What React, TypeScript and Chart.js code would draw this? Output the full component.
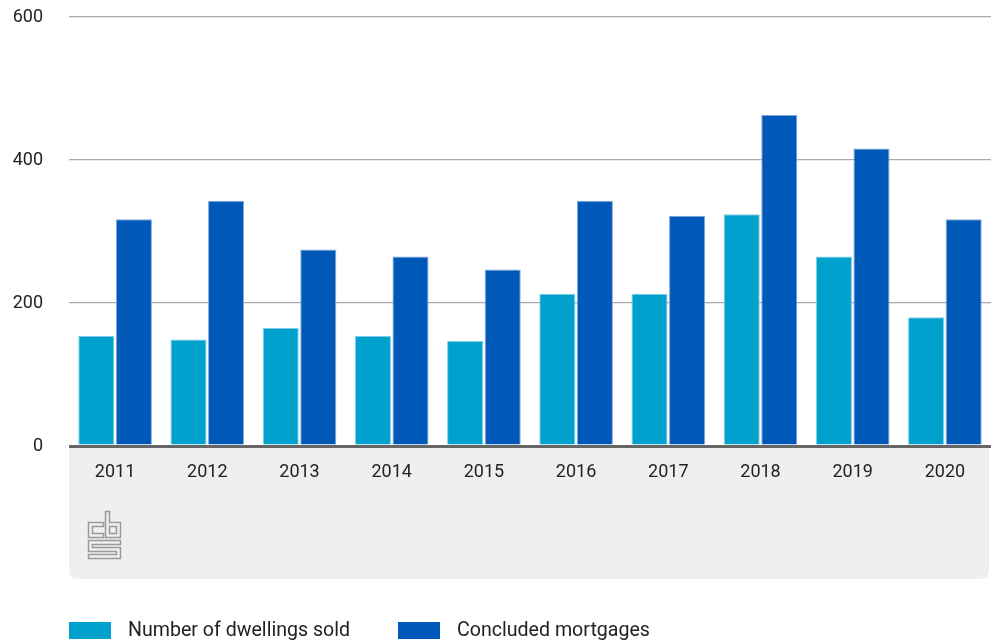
import { useEffect, useRef } from "react";
import { Chart, registerables } from "chart.js";

Chart.register(...registerables);

const years = ["2011", "2012", "2013", "2014", "2015", "2016", "2017", "2018", "2019", "2020"];
const dwellingsSold = [154, 149, 165, 154, 147, 213, 213, 324, 265, 180];
const concludedMortgages = [317, 343, 275, 265, 247, 343, 322, 463, 416, 317];
const seriesLabels = ["Number of dwellings sold", "Concluded mortgages"];
const yTickValues = [0, 200, 400, 600];

const FONT = 'Roboto, "Liberation Sans", sans-serif';
const LIGHT = "#00a1cd";
const DARK = "#0058b8";

const panelPlugin = {
  id: "panel",
  beforeDraw(chart: any) {
    const { ctx, chartArea } = chart;
    const x0 = chartArea.left;
    const x1 = chartArea.right - 2;
    const y0 = chartArea.bottom;
    const y1 = chartArea.bottom + 133;
    const r = 9;
    ctx.save();
    ctx.fillStyle = "#efefef";
    ctx.beginPath();
    ctx.moveTo(x0, y0);
    ctx.lineTo(x1, y0);
    ctx.lineTo(x1, y1 - r);
    ctx.quadraticCurveTo(x1, y1, x1 - r, y1);
    ctx.lineTo(x0 + r, y1);
    ctx.quadraticCurveTo(x0, y1, x0, y1 - r);
    ctx.closePath();
    ctx.fill();
    // logo
    const lx = x0 + 19.5;
    const ly = y0 + 65.5;
    ctx.strokeStyle = "#9a9a9a";
    ctx.lineWidth = 1.5;
    const poly = (pts: number[][]) => {
      ctx.beginPath();
      pts.forEach((p, i) => (i === 0 ? ctx.moveTo(lx + p[0], ly + p[1]) : ctx.lineTo(lx + p[0], ly + p[1])));
      ctx.closePath();
      ctx.stroke();
    };
    // c
    poly([[15, 11], [0, 11], [0, 26], [15, 26], [15, 22], [4, 22], [4, 15], [15, 15]]);
    // b
    poly([[17, 0], [21, 0], [21, 11], [32, 11], [32, 26], [17, 26]]);
    poly([[21, 15], [28, 15], [28, 22], [21, 22]]);
    // S
    poly([[0, 29], [32, 29], [32, 33], [4, 33], [4, 36], [32, 36], [32, 47], [0, 47], [0, 43], [28, 43], [28, 40], [0, 40]]);
    ctx.restore();
  },
  afterDraw(chart: any) {
    const { ctx, chartArea } = chart;
    const ds = chart.data.datasets;
    const positions = [chartArea.left, chartArea.left + 329];
    ctx.save();
    ctx.font = `19.6px ${FONT}`;
    ctx.textBaseline = "middle";
    ds.forEach((d: any, i: number) => {
      const x = positions[i];
      ctx.fillStyle = d.backgroundColor;
      ctx.fillRect(x, 622, 42, 17);
      ctx.fillStyle = "#222";
      ctx.fillText(d.label, x + 59, 631);
    });
    ctx.restore();
  },
};

export default function App() {
  const ref = useRef<HTMLCanvasElement>(null);
  useEffect(() => {
    document.body.style.margin = "0";
    const chart = new Chart(ref.current!, {
      type: "bar",
      data: {
        labels: years,
        datasets: [
          {
            label: seriesLabels[0],
            data: dwellingsSold,
            backgroundColor: LIGHT,
            borderColor: "#7fd0e6",
            borderWidth: 1,
          },
          {
            label: seriesLabels[1],
            data: concludedMortgages,
            backgroundColor: DARK,
            borderColor: "#7fa8dc",
            borderWidth: 1,
          },
        ],
      },
      options: {
        animation: false,
        responsive: false,
        maintainAspectRatio: false,
        layout: { padding: { top: 17, right: 0, left: 0, bottom: 0 } },
        datasets: { bar: { categoryPercentage: 0.815, barPercentage: 0.96 } },
        plugins: { legend: { display: false }, tooltip: { enabled: false } },
        scales: {
          x: {
            grid: { display: false, drawTicks: false },
            border: { display: false },
            ticks: { color: "#222", font: { family: FONT, size: 18 }, padding: 16 },
            afterFit: (s: any) => {
              s.height = 198;
            },
          },
          y: {
            min: 0,
            max: 600,
            afterBuildTicks: (s: any) => {
              s.ticks = yTickValues.map((v) => ({ value: v }));
            },
            grid: {
              drawTicks: false,
              color: (c: any) => (c.tick && c.tick.value === 0 ? "#666666" : "#aaaaaa"),
              lineWidth: (c: any) => (c.tick && c.tick.value === 0 ? 3 : 1.2),
            },
            border: { display: false },
            ticks: { color: "#222", font: { family: FONT, size: 18 }, padding: 26 },
            afterFit: (s: any) => {
              s.width = 69;
              s.paddingTop = 0;
              s.paddingBottom = 0;
            },
          },
        },
      },
      plugins: [panelPlugin],
    });
    return () => chart.destroy();
  }, []);
  return <canvas ref={ref} width={991} height={644} style={{ display: "block" }} />;
}
